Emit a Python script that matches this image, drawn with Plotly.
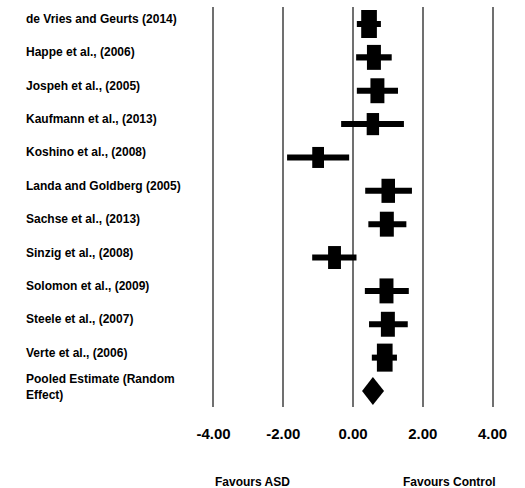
import plotly.graph_objects as go

# Study-level effect sizes (standardised mean difference) with 95% CI
studies = [
    "de Vries and Geurts (2014)",
    "Happe et al., (2006)",
    "Jospeh et al., (2005)",
    "Kaufmann et al., (2013)",
    "Koshino et al., (2008)",
    "Landa and Goldberg (2005)",
    "Sachse et al., (2013)",
    "Sinzig et al., (2008)",
    "Solomon et al., (2009)",
    "Steele et al., (2007)",
    "Verte et al., (2006)",
]
effect = [0.46, 0.60, 0.70, 0.57, -1.00, 1.01, 0.97, -0.53, 0.96, 1.00, 0.91]
ci_low = [0.11, 0.09, 0.11, -0.34, -1.89, 0.35, 0.44, -1.17, 0.34, 0.46, 0.54]
ci_high = [0.80, 1.11, 1.29, 1.46, -0.11, 1.69, 1.53, 0.10, 1.60, 1.57, 1.26]
weight = [10.0, 8.9, 8.9, 7.9, 7.5, 8.6, 8.9, 8.2, 8.9, 8.9, 10.0]

pooled_label = "Pooled Estimate (Random<br>Effect)"
pooled_effect = 0.57
pooled_low = 0.26
pooled_high = 0.89

tick_values = [-4, -2, 0, 2, 4]
tick_labels = ["-4.00", "-2.00", "0.00", "2.00", "4.00"]
favour_labels = ["Favours ASD", "Favours Control"]
favour_pos = [-2.89, 2.77]

rows = list(range(len(studies)))
pooled_row = len(studies)

# box size follows study weight: height in row units, width in effect units
box_h = [w * 0.084 for w in weight]
box_w = [w * 0.045 for w in weight]
whisker_h = 0.18

LABEL_FONT = dict(family="Arial, Liberation Sans, sans-serif", size=12, color="black", weight="bold")

fig = go.Figure()

# confidence-interval whiskers
fig.add_trace(go.Bar(
    orientation="h",
    y=rows,
    base=ci_low,
    x=[h - l for h, l in zip(ci_high, ci_low)],
    width=whisker_h,
    marker=dict(color="black", line=dict(width=0)),
    hoverinfo="skip",
    showlegend=False,
))

# weighted boxes centred on each study estimate
fig.add_trace(go.Bar(
    orientation="h",
    y=rows,
    base=[e - w / 2 for e, w in zip(effect, box_w)],
    x=box_w,
    width=box_h,
    marker=dict(color="black", line=dict(width=0)),
    hoverinfo="skip",
    showlegend=False,
))

# pooled estimate diamond spanning its confidence interval
half = 0.42
fig.add_trace(go.Scatter(
    x=[pooled_low, pooled_effect, pooled_high, pooled_effect, pooled_low],
    y=[pooled_row, pooled_row - half, pooled_row, pooled_row + half, pooled_row],
    mode="lines",
    fill="toself",
    fillcolor="black",
    line=dict(color="black", width=0),
    hoverinfo="skip",
    showlegend=False,
))

annotations = []
for r, name in zip(rows + [pooled_row], studies + [pooled_label]):
    annotations.append(dict(
        x=-0.65, xref="paper", y=r, yref="y",
        text=name, showarrow=False, xanchor="left", yanchor="middle",
        align="left", yshift=5 if r < pooled_row else 4, font=LABEL_FONT,
    ))
for txt, xpos in zip(favour_labels, favour_pos):
    annotations.append(dict(
        x=xpos, xref="x", y=0, yref="paper", yshift=-75,
        text=txt, showarrow=False, xanchor="center", yanchor="middle",
        font=LABEL_FONT,
    ))

fig.update_layout(
    width=525,
    height=488,
    margin=dict(l=209.5, r=28.5, t=7, b=81),
    paper_bgcolor="white",
    plot_bgcolor="white",
    barmode="overlay",
    annotations=annotations,
    xaxis=dict(
        range=[-4.1, 4.1],
        tickvals=tick_values,
        ticktext=tick_labels,
        showgrid=True,
        gridcolor="#707070",
        gridwidth=1.5,
        zeroline=False,
        showline=False,
        ticks="",
        ticklabelstandoff=16,
        tickfont=dict(family="Arial, Liberation Sans, sans-serif",
                      size=15, color="black", weight="bold"),
        fixedrange=True,
    ),
    yaxis=dict(
        range=[pooled_row + 0.48, -0.51],
        showgrid=False,
        zeroline=False,
        showline=False,
        showticklabels=False,
        ticks="",
        fixedrange=True,
    ),
)

fig.write_html("out.html")
